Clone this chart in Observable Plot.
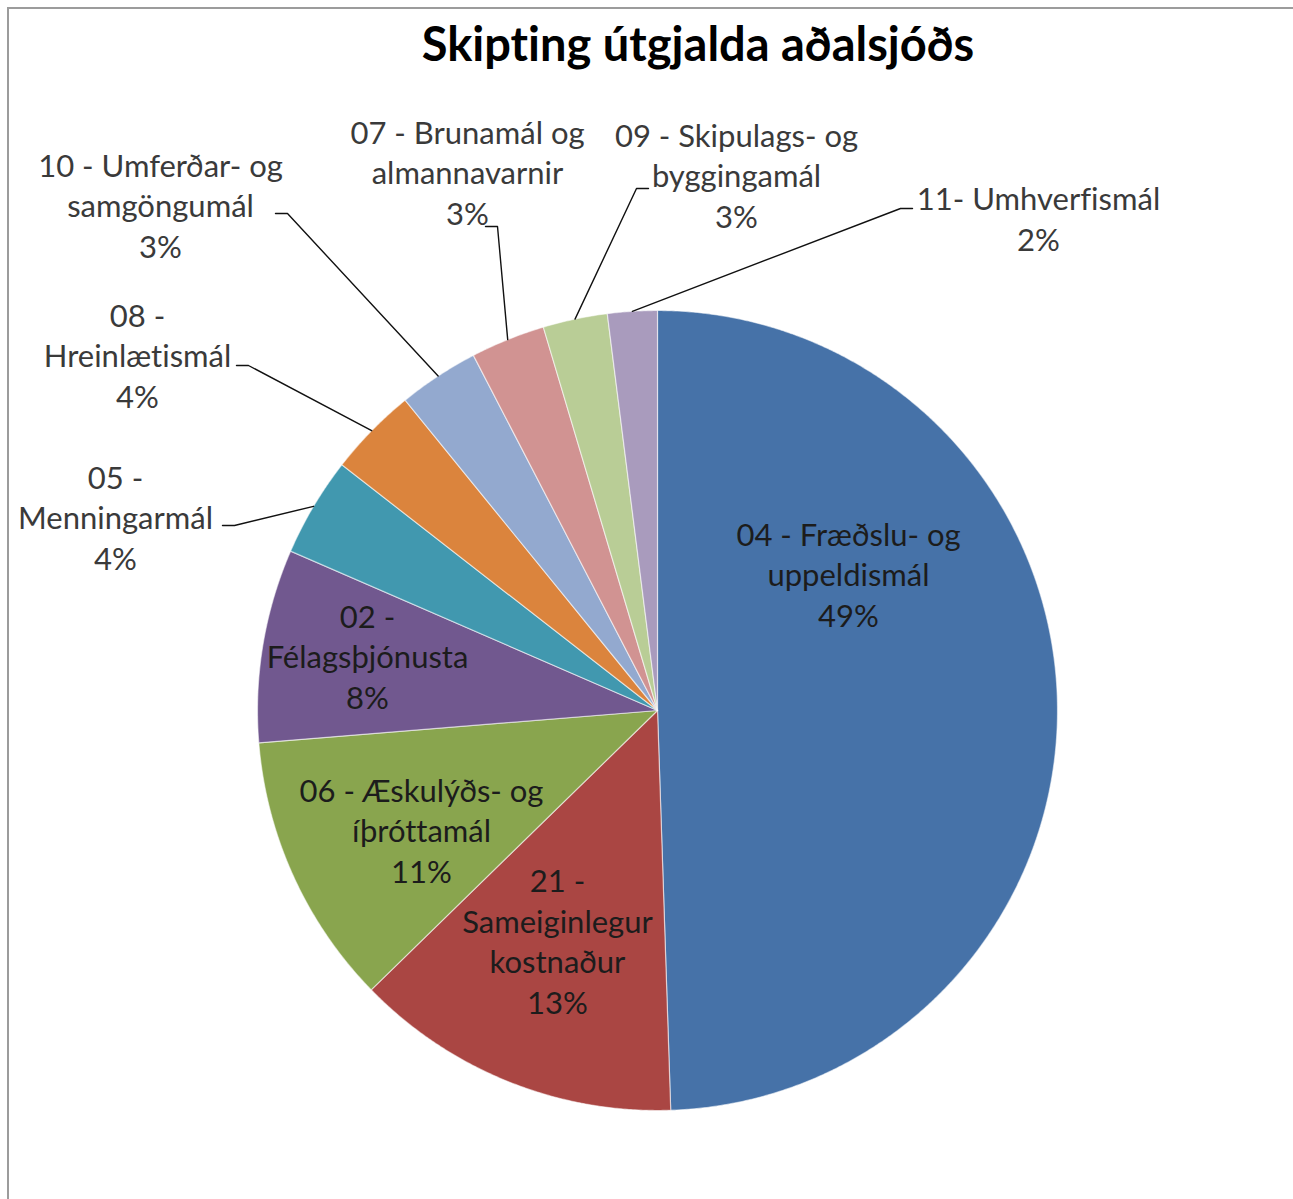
<!DOCTYPE html>
<html>
<head>
<meta charset="utf-8">
<script src="https://cdn.jsdelivr.net/npm/d3@7"></script>
<script src="https://cdn.jsdelivr.net/npm/@observablehq/plot@0.6"></script>
<style>
  html, body { margin: 0; padding: 0; background: #fff; }
  #wrap { position: relative; width: 1293px; height: 1199px; overflow: hidden; }
  #frame { position: absolute; left: 7px; top: 7px; right: -10px; bottom: -10px;
           border-top: 2px solid #9c9c9c; border-left: 2px solid #9c9c9c; }
  #title { position: absolute; left: 298px; width: 800px; top: 20px; text-align: center;
           font-family: Lato, "Open Sans", sans-serif; font-weight: bold; font-size: 47px;
           line-height: 47px; color: #000; font-variant-ligatures: none; }
  #chart { position: absolute; left: 0; top: 0; }
  #chart svg text { font-variant-ligatures: none; }
</style>
</head>
<body>
<div id="wrap">
  <div id="frame"></div>
  <div id="chart"></div>
  <div id="title">Skipting útgjalda aðalsjóðs</div>
</div>
<script>
// ---- data ----
const categories = [
  "04 - Fræðslu- og uppeldismál",
  "21 - Sameiginlegur kostnaður",
  "06 - Æskulýðs- og íþróttamál",
  "02 - Félagsþjónusta",
  "05 - Menningarmál",
  "08 - Hreinlætismál",
  "10 - Umferðar- og samgöngumál",
  "07 - Brunamál og almannavarnir",
  "09 - Skipulags- og byggingamál",
  "11- Umhverfismál"
];
const values = [49.4, 13.2, 11.0, 7.8, 4.0, 3.6, 3.25, 3.0, 2.6, 2.0];
const colors = ["#4672A8", "#AA4643", "#89A54E", "#71588F", "#4198AF",
                "#DB843D", "#93A9CF", "#D19392", "#B9CD96", "#A99BBD"];
const labelLines = [
  ["04 - Fræðslu- og", "uppeldismál"],
  ["21 -", "Sameiginlegur", "kostnaður"],
  ["06 - Æskulýðs- og", "íþróttamál"],
  ["02 -", "Félagsþjónusta"],
  ["05 -", "Menningarmál"],
  ["08 -", "Hreinlætismál"],
  ["10 - Umferðar- og", "samgöngumál"],
  ["07 - Brunamál og", "almannavarnir"],
  ["09 - Skipulags- og", "byggingamál"],
  ["11- Umhverfismál"]
];

// ---- layout (pixels) ----
const W = 1293, H = 1199;
const cx = 657, cy = 710, R = 400;
// label block centre, offset from pie centre; optional leader stub (offset from pie centre)
const layout = [
  {dx: 191, dy: -137, inside: true},
  {dx: -100, dy: 229.5, inside: true},
  {dx: -236, dy: 119, inside: true},
  {dx: -290, dy: -55, inside: true},
  {dx: -542, dy: -194, stub: [[-435, -185], [-423, -185]]},
  {dx: -520, dy: -356, stub: [[-421, -345], [-409, -345]]},
  {dx: -497, dy: -506, stub: [[-382, -497], [-370, -497]]},
  {dx: -190, dy: -539, stub: [[-172, -484], [-160, -484]]},
  {dx: 79, dy: -536, stub: [[-9, -522], [-21, -522]]},
  {dx: 381, dy: -493, stub: [[255, -502], [243, -502]]}
];

const total = d3.sum(values);
const arcs = d3.pie().sort(null).startAngle(0).endAngle(2 * Math.PI)(values);

// slice polygons
const slicePts = [];
arcs.forEach((a, i) => {
  const n = Math.max(4, Math.ceil((a.endAngle - a.startAngle) / 0.005));
  slicePts.push({name: categories[i], x: cx, y: cy});
  for (let k = 0; k <= n; k++) {
    const t = a.startAngle + (a.endAngle - a.startAngle) * k / n;
    slicePts.push({name: categories[i], x: cx + R * Math.sin(t), y: cy - R * Math.cos(t)});
  }
  slicePts.push({name: categories[i], x: cx, y: cy});
});

// labels
const labels = arcs.map((a, i) => ({
  name: categories[i],
  text: [...labelLines[i], Math.round(values[i] / total * 100) + "%"].join("\n"),
  x: cx + layout[i].dx,
  y: cy + layout[i].dy,
  inside: !!layout[i].inside
}));

// leader lines
const leaders = [];
arcs.forEach((a, i) => {
  const L = layout[i];
  if (!L.stub) return;
  const mid = (a.startAngle + a.endAngle) / 2;
  L.stub.forEach(p => leaders.push({name: categories[i], x: cx + p[0], y: cy + p[1]}));
  leaders.push({name: categories[i], x: cx + R * Math.sin(mid), y: cy - R * Math.cos(mid)});
});

const font = "Lato, 'Open Sans', sans-serif";
const fs = 31;
const chart = Plot.plot({
  width: W, height: H,
  margin: 0,
  x: {domain: [0, W], range: [0, W], axis: null},
  y: {domain: [0, H], range: [0, H], axis: null},
  color: {domain: categories, range: colors},
  style: {background: "transparent"},
  marks: [
    Plot.line(slicePts, {x: "x", y: "y", z: "name", fill: "name",
      stroke: "#ffffff", strokeOpacity: 0.55, strokeWidth: 1.2, curve: "linear"}),
    Plot.line(leaders, {x: "x", y: "y", z: "name", stroke: "#111", strokeWidth: 1.4, curve: "linear"}),
    Plot.text(labels.filter(d => !d.inside), {x: "x", y: "y", text: "text",
      fontSize: fs, fontFamily: font, fill: "#3a3a3a", lineHeight: 40.5 / fs, textAnchor: "middle"}),
    Plot.text(labels.filter(d => d.inside), {x: "x", y: "y", text: "text",
      fontSize: fs, fontFamily: font, fill: "#1c1c1c", lineHeight: 40.5 / fs, textAnchor: "middle"})
  ]
});
document.getElementById("chart").appendChild(chart);
</script>
</body>
</html>
